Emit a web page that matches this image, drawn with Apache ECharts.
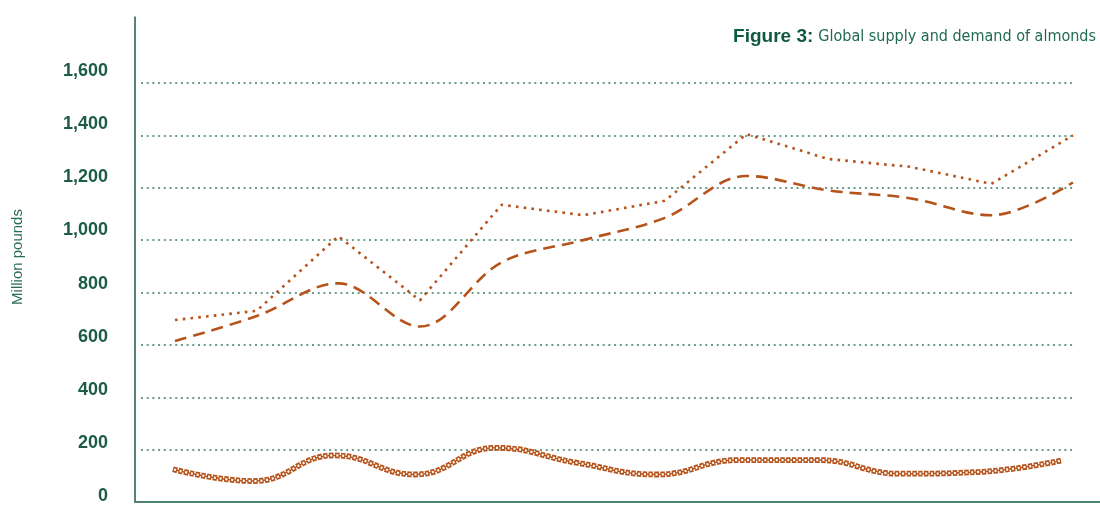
<!DOCTYPE html>
<html>
<head>
<meta charset="utf-8">
<script src="https://cdn.jsdelivr.net/npm/echarts@6/dist/echarts.min.js"></script>
<style>
  html, body { margin: 0; padding: 0; background: #fff; }
  #chart { width: 1100px; height: 505px; }
</style>
</head>
<body>
<div id="chart"></div>
<script>
// marketing years (not labelled on the original chart)
const years = ['2007/08', '2008/09', '2009/10', '2010/11', '2011/12', '2012/13',
  '2013/14', '2014/15', '2015/16', '2016/17', '2017/18', '2018/19'];
const supply = [695, 730, 1015, 770, 1135, 1095, 1150, 1405, 1310, 1280, 1215, 1400];
const consumption = [615, 710, 835, 670, 915, 1000, 1085, 1245, 1190, 1160, 1095, 1220];
const endingStocks = [125, 80, 178, 105, 207, 150, 105, 160, 160, 108, 115, 158];
const yTicks = [0, 200, 400, 600, 800, 1000, 1200, 1400, 1600];

const orange = '#b5531b';
const green = '#1b5c44';
const gridGreen = '#6b9c89';

const chart = echarts.init(document.getElementById('chart'));

const pairs = arr => arr.map((v, i) => [i, v]);
const stockPeriod = 5.8;

const option = {
  backgroundColor: '#fff',
  animation: false,
  title: {
    right: 4,
    top: 27,
    padding: 0,
    text: '{b|Figure 3:} {r|Global supply and demand of almonds}',
    textStyle: {
      rich: {
        b: { fontFamily: 'Liberation Sans', fontWeight: 'bold', fontSize: 19, color: '#0f5a3f' },
        r: { fontFamily: "'DejaVu Sans Condensed', 'Liberation Sans'", fontWeight: 'normal', fontSize: 16, color: '#1f6a4f' }
      }
    }
  },
  grid: [
    // data + gridlines
    { left: 141, right: 27, top: 83, bottom: 3 },
    // tick labels
    { left: 135, right: 0, top: 18, bottom: 0 },
    // axis lines
    { left: 135, right: 0, top: 17, bottom: 3 }
  ],
  xAxis: [
    { gridIndex: 0, type: 'value', min: -0.4165, max: 11, show: false },
    { gridIndex: 1, type: 'value', min: 0, max: 1, show: false },
    {
      gridIndex: 2, type: 'value', min: 0, max: 1,
      axisLine: { show: true, lineStyle: { color: '#4e8270', width: 2 } },
      axisTick: { show: false }, axisLabel: { show: false }, splitLine: { show: false }
    },
    // ending stocks sit on a slightly narrower span
    { gridIndex: 0, type: 'value', min: -0.396, max: 11.149, show: false }
  ],
  yAxis: [
    {
      gridIndex: 0, type: 'value', min: 0, max: 1600, interval: 200,
      axisLine: { show: false }, axisTick: { show: false }, axisLabel: { show: false },
      splitLine: { show: true, lineStyle: { color: gridGreen, width: 2, type: [2, 3.7] } }
    },
    {
      gridIndex: 1, type: 'value', min: 0, max: 1800, interval: 200,
      axisLine: { show: false }, axisTick: { show: false }, splitLine: { show: false },
      axisLabel: {
        margin: 27,
        fontFamily: 'Liberation Sans', fontWeight: 'bold', fontSize: 18, color: green,
        formatter: v => yTicks.includes(v) ? v.toLocaleString('en-US') : ''
      },
      name: 'Million pounds',
      nameLocation: 'middle',
      nameRotate: 90,
      nameGap: 110,
      nameTextStyle: { fontFamily: 'Liberation Sans', fontSize: 15, color: '#2a6e55' }
    },
    {
      gridIndex: 2, type: 'value', min: 0, max: 1,
      axisLine: { show: true, lineStyle: { color: green, width: 1.5 } },
      axisTick: { show: false }, axisLabel: { show: false }, splitLine: { show: false }
    }
  ],
  series: [
    {
      name: 'Supply', type: 'line', xAxisIndex: 0, yAxisIndex: 0,
      data: pairs(supply), showSymbol: false, smooth: false,
      lineStyle: { color: orange, width: 2.6, type: [2.6, 5.2] }
    },
    {
      name: 'Consumption', type: 'line', xAxisIndex: 0, yAxisIndex: 0,
      data: pairs(consumption), showSymbol: false, smooth: 0.35,
      lineStyle: { color: orange, width: 2.6, type: [12, 7] }
    },
    // ending stocks: chain of hollow diamonds built from layered dashes
    {
      name: 'Ending stocks', type: 'line', xAxisIndex: 3, yAxisIndex: 0,
      data: pairs(endingStocks), showSymbol: false, smooth: 0.45,
      lineStyle: { color: orange, width: 1.5 }
    },
    {
      name: 'Ending stocks', type: 'line', xAxisIndex: 3, yAxisIndex: 0,
      data: pairs(endingStocks), showSymbol: false, smooth: 0.45,
      lineStyle: { color: orange, width: 5.8, type: [stockPeriod - 1.4, 1.4] }
    },
    {
      name: 'Ending stocks', type: 'line', xAxisIndex: 3, yAxisIndex: 0,
      data: pairs(endingStocks), showSymbol: false, smooth: 0.45,
      lineStyle: { color: '#fff', width: 2.2, type: [2, stockPeriod - 2], dashOffset: -1.2 }
    }
  ]
};

chart.setOption(option);
</script>
</body>
</html>
